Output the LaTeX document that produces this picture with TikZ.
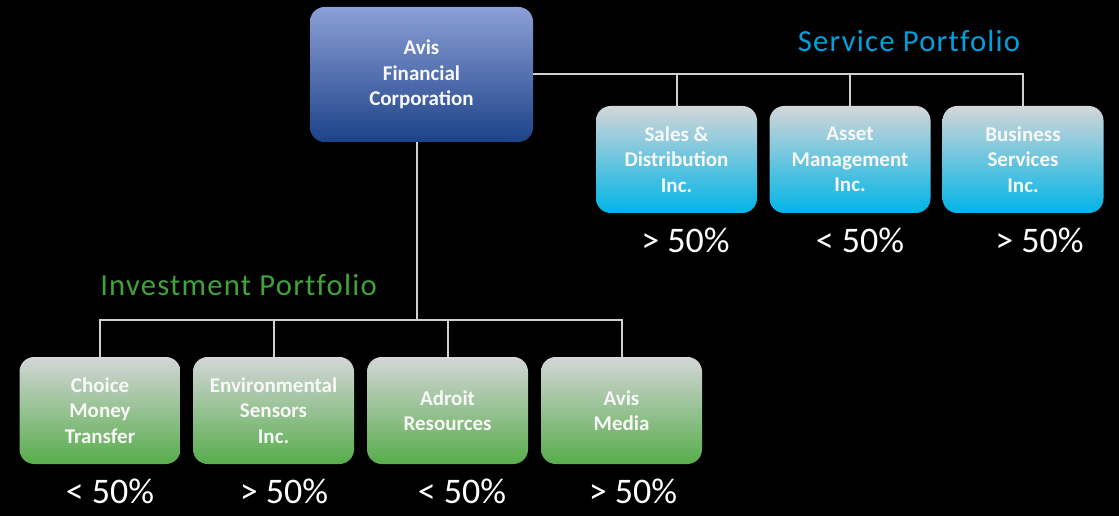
\documentclass[tikz,border=0pt]{standalone}
\usepackage{fontspec}
\setmainfont{Carlito}
\newfontfamily\trackedfont[LetterSpace=4,Ligatures=NoCommon]{Carlito}
\usepackage{tikz}
\definecolor{paleblue}{HTML}{8C9FD6}
\definecolor{midblue}{HTML}{3F5FA6}
\definecolor{nightblue}{HTML}{1C4288}
\definecolor{lightgrey}{HTML}{D4D6D8}
\definecolor{cyanblue}{HTML}{00B4E6}
\definecolor{leafgreen}{HTML}{57AD4B}
\definecolor{servicetext}{HTML}{00A0DF}
\definecolor{investtext}{HTML}{3FA33A}
\definecolor{linegrey}{HTML}{D0D0D0}
\definecolor{boxtext}{HTML}{F8F8F8}

\tikzset{
  box/.style={rounded corners=11pt, minimum width=120.75pt, minimum height=80.25pt,
    inner sep=0pt, align=center, text=boxtext, font=\bfseries\fontsize{15.75}{19}\selectfont},
  headbox/.style={box, minimum width=167.25pt, minimum height=101.25pt,
    top color=paleblue, middle color=midblue, bottom color=nightblue},
  svcbox/.style={box, top color=lightgrey, bottom color=cyanblue},
  invbox/.style={box, top color=lightgrey, bottom color=leafgreen},
  share/.style={anchor=base, text=white, font=\fontsize{27}{32}\selectfont},
  portfolio/.style={anchor=base, font=\trackedfont\fontsize{23}{28}\selectfont},
  conn/.style={draw=linegrey, line width=1.5pt}
}

\begin{document}
\begin{tikzpicture}[x=0.75pt, y=-0.75pt]

        % Background
        \fill[black] (0,0) rectangle (1119,516);

        % Holding company
        \node[headbox] (afc) at (421.5,74.5) {Avis\\Financial\\Corporation};

        % Service portfolio
        \node[portfolio, text=servicetext] (svclabel) at (909,52) {Service Portfolio};
        \node[svcbox] (sales) at (676.5,159.5) {Sales \&\\Distribution\\Inc.};
        \node[svcbox] (asset) at (850,159.5) {Asset\\Management\\Inc.};
        \node[svcbox] (biz) at (1023,159.5) {Business\\Services\\Inc.};
        \node[share] (salesshare) at (685.5,253) {> 50\%};
        \node[share] (assetshare) at (860,253) {< 50\%};
        \node[share] (bizshare) at (1039.5,253) {> 50\%};

        % Investment portfolio
        \node[portfolio, text=investtext] (invlabel) at (238.5,296) {Investment Portfolio};
        \node[invbox] (choice) at (100,410.5) {Choice\\Money\\Transfer};
        \node[invbox] (enviro) at (273.5,410.5) {Environmental\\Sensors\\Inc.};
        \node[invbox] (adroit) at (447.5,410.5) {Adroit\\Resources};
        \node[invbox] (media) at (621.5,410.5) {Avis\\Media};
        \node[share] (choiceshare) at (110,503) {< 50\%};
        \node[share] (enviroshare) at (284,503) {> 50\%};
        \node[share] (adroitshare) at (462,503) {< 50\%};
        \node[share] (mediashare) at (633,503) {> 50\%};

        % Service branches
        \draw[conn] (afc.east) -| (biz.north);
        \draw[conn] (sales.north) -- (sales.north |- afc.east);
        \draw[conn] (asset.north) -- (asset.north |- afc.east);

        % Investment branches
        \coordinate (invbus) at (417,320);
        \draw[conn] (afc.south -| invbus) -- (invbus);
        \draw[conn] (choice.north) |- (invbus) -| (media.north);
        \draw[conn] (enviro.north) -- (enviro.north |- invbus);
        \draw[conn] (adroit.north) -- (adroit.north |- invbus);

\end{tikzpicture}
\end{document}
